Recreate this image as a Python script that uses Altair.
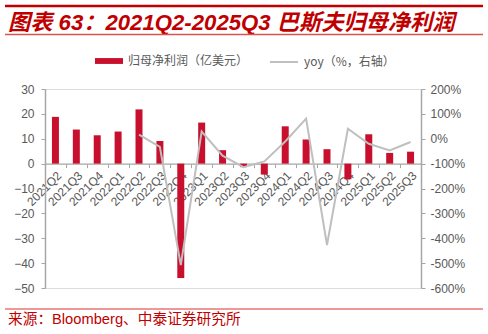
import altair as alt
import pandas as pd

quarters = ["2021Q2", "2021Q3", "2021Q4", "2022Q1", "2022Q2", "2022Q3", "2022Q4",
            "2023Q1", "2023Q2", "2023Q3", "2023Q4", "2024Q1", "2024Q2", "2024Q3",
            "2024Q4", "2025Q1", "2025Q2", "2025Q3"]
profit = [18.8, 13.7, 11.4, 12.9, 21.8, 9.1, -46.0, 16.5, 5.4, -1.4, -4.4, 15.0,
          9.7, 5.8, -6.3, 11.8, 4.3, 4.8]
yoy = [None, None, None, None, 17, -33, -508, 29, -68, -114, -91, -11, 81, -427,
       40, -20, -47, -13]

bar_name = "归母净利润（亿美元）"
line_name = "yoy（%，右轴）"
title_text = "图表 63：2021Q2-2025Q3 巴斯夫归母净利润"
source_text = "来源：Bloomberg、中泰证券研究所"

df = pd.DataFrame({"q": quarters, "profit": profit, "yoy": yoy})
df["bar_series"] = bar_name
df["line_series"] = line_name

FONT = "Liberation Sans, Arial, Noto Sans CJK SC"
GRAY = "#595959"
AXIS_GRAY = "#A6A6A6"

W, H = 376, 199
PL, PT = 45, 89


def x_enc():
    return alt.X("q:N", sort=quarters, scale=alt.Scale(paddingInner=0, paddingOuter=0),
                 axis=alt.Axis(title=None, labelAngle=-45, labelFontSize=12, labelColor=GRAY,
                               labelFont=FONT, domainColor=AXIS_GRAY, domainWidth=1.2,
                               tickColor=AXIS_GRAY, tickSize=4, tickBand="extent",
                               offset=-(H - H * 30 / 80), labelPadding=2, labelOverlap=False))


bars = alt.Chart(df).mark_bar(size=7).encode(
    x=x_enc(),
    y=alt.Y("profit:Q", scale=alt.Scale(domain=[-50, 30], nice=False, zero=False),
            axis=alt.Axis(title=None, values=list(range(-50, 31, 10)), labelFontSize=12,
                          labelColor=GRAY, labelFont=FONT, domainColor=AXIS_GRAY,
                          domainWidth=1.5, tickColor=AXIS_GRAY, tickSize=4, labelPadding=7,
                          grid=False)),
    color=alt.Color("bar_series:N", scale=alt.Scale(domain=[bar_name], range=["#C8102E"]),
                    legend=alt.Legend(orient="none", legendX=50, legendY=-42, title=None,
                                      symbolType="M-1,-0.21L1,-0.21L1,0.21L-1,0.21Z",
                                      symbolSize=784, labelFontSize=12, labelColor=GRAY,
                                      labelFont="Noto Sans CJK SC", padding=0,
                                      symbolStrokeWidth=0, labelOffset=5)),
)

line = alt.Chart(df).mark_line(strokeWidth=2).encode(
    x=x_enc(),
    y=alt.Y("yoy:Q", scale=alt.Scale(domain=[-600, 200], nice=False, zero=False),
            axis=alt.Axis(title=None, orient="right", values=list(range(-600, 201, 100)),
                          labelExpr="datum.value + '%'", labelFontSize=12, labelColor=GRAY,
                          labelFont=FONT, domainColor=AXIS_GRAY, domainWidth=1.5,
                          tickColor=AXIS_GRAY, tickSize=4, labelPadding=5, grid=False)),
    stroke=alt.Stroke("line_series:N", scale=alt.Scale(domain=[line_name], range=["#BFBFBF"]),
                      legend=alt.Legend(orient="none", legendX=224, legendY=-42, title=None,
                                        symbolType="stroke", symbolSize=784,
                                        symbolStrokeWidth=2, labelFontSize=12,
                                        labelColor=GRAY, labelFont="Noto Sans CJK SC",
                                        padding=0, labelOffset=5)),
)

one = pd.DataFrame({"a": [0]})

title = alt.Chart(one).mark_text(align="left", baseline="alphabetic", fontSize=22.2,
                                 fontWeight="bold", fontStyle="italic", color="#C00000",
                                 font=FONT).encode(
    x=alt.value(8 - PL), y=alt.value(29.5 - PT), text=alt.value(title_text))

rule_top = alt.Chart(one).mark_rule(color="#C00000", strokeWidth=2.5).encode(
    x=alt.value(5 - PL), x2=alt.value(483 - PL), y=alt.value(6 - PT))
rule_mid = alt.Chart(one).mark_rule(color="#D9534F", strokeWidth=1.5).encode(
    x=alt.value(5 - PL), x2=alt.value(483 - PL), y=alt.value(34.5 - PT))
rule_bot = alt.Chart(one).mark_rule(color="#E03030", strokeWidth=1).encode(
    x=alt.value(5 - PL), x2=alt.value(483 - PL), y=alt.value(309 - PT))

source = alt.Chart(one).mark_text(align="left", baseline="alphabetic", fontSize=14.7,
                                  color="#C00000", font=FONT).encode(
    x=alt.value(8 - PL), y=alt.value(324 - PT), text=alt.value(source_text))

chart = alt.layer(bars, line, title, rule_top, rule_mid, rule_bot, source).resolve_scale(
    y="independent", color="independent", stroke="independent"
).properties(
    width=W, height=H,
    autosize=alt.AutoSizeParams(type="none"),
    padding={"left": PL, "top": PT, "right": 488 - PL - W, "bottom": 334 - PT - H},
).configure_view(stroke=None).configure(background="white")

chart.save("out.html", embed_options={"renderer": "svg", "actions": False})
